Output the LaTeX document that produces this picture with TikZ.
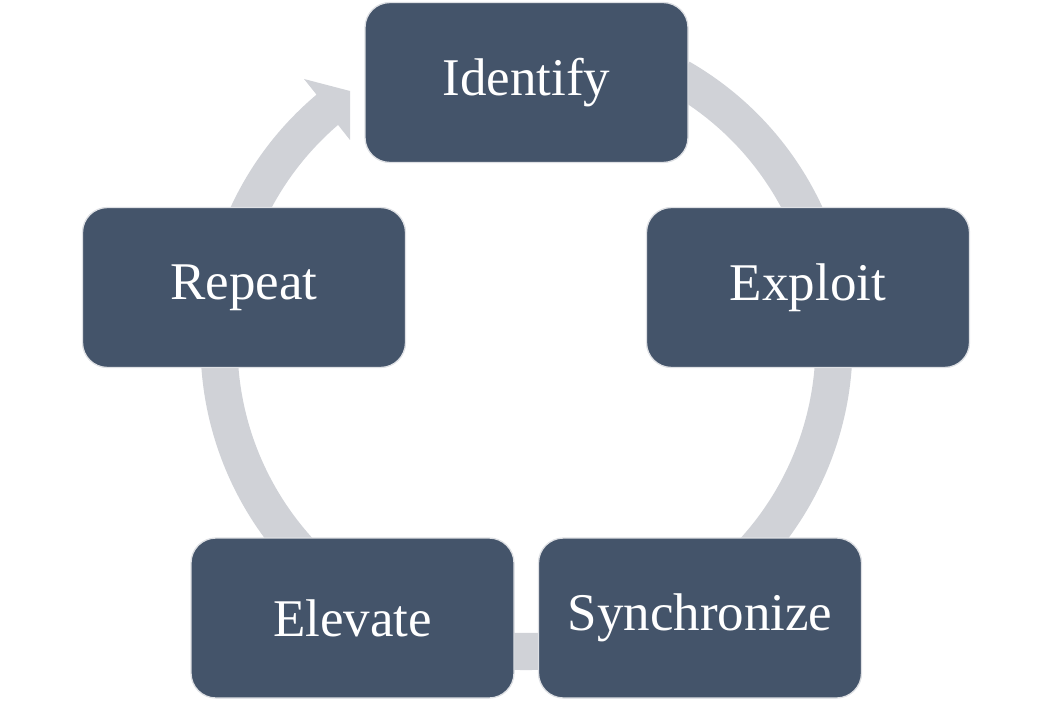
\documentclass[tikz,border=0pt]{standalone}
\usepackage{fontspec}
\setmainfont{Liberation Serif}
\usetikzlibrary{calc}
\definecolor{boxblue}{RGB}{68,84,106}
\definecolor{ringgray}{RGB}{208,210,215}
\definecolor{edgegray}{RGB}{222,224,228}
\tikzset{
  stepbox/.style={rectangle, rounded corners=25pt, fill=boxblue, draw=edgegray,
    line width=1.3pt, minimum width=323pt, minimum height=160pt,
    text=white, font=\fontsize{53}{62}\selectfont, inner sep=0pt},
  ring/.style={fill=ringgray, draw=none}
}
\begin{document}
\begin{tikzpicture}[x=1pt,y=-1pt]
\useasboundingbox (0,0) rectangle (1054,703);
\coordinate (C) at (526.5,344);
% ring with arrowhead
\fill[ringgray] ($(C)+(-60:326)$) arc[start angle=-60, end angle=229.9, radius=326]
  -- (304,79) -- (350,91) -- (350,140) -- ($(C)+(229.3:289)$)
  arc[start angle=229.3, end angle=-60, radius=289] -- cycle;
% boxes
\node[stepbox] (identify) at (526.5,82.5) {Identify};
\node[stepbox] (exploit) at (808,287.5) {Exploit};
\node[stepbox] (sync) at (700,618) {Synchronize};
\node[stepbox] (elevate) at (352.5,618) {Elevate};
\node[stepbox] (repeat) at (244,287.5) {Repeat};
\end{tikzpicture}
\end{document}
